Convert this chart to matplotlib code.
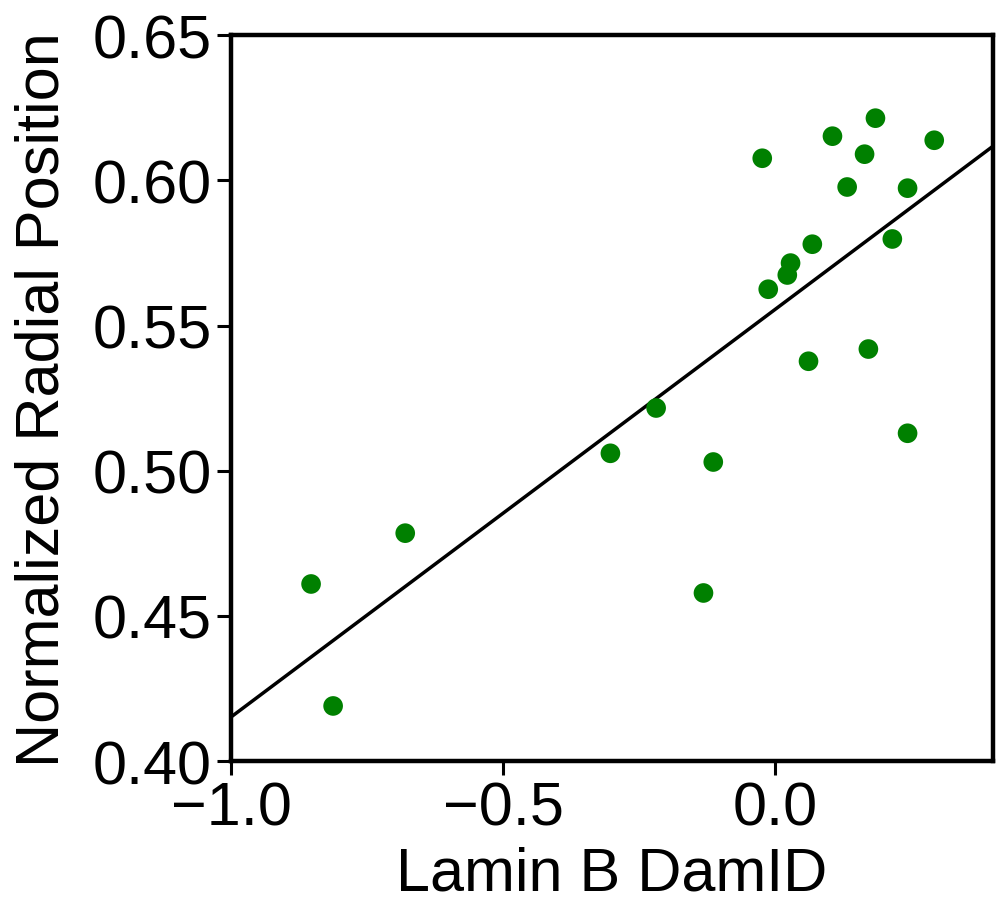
import numpy as np
import matplotlib.pyplot as plt

plt.rcParams['font.family'] = ['Liberation Sans', 'DejaVu Sans']

lamin_b = [-0.853, -0.8125, -0.680, -0.303, -0.219, -0.132, -0.114, -0.024, -0.013,
           0.022, 0.028, 0.061, 0.068, 0.105, 0.132, 0.164, 0.171, 0.184, 0.215,
           0.243, 0.243, 0.292]
radial_pos = [0.461, 0.419, 0.4785, 0.506, 0.5216, 0.4579, 0.503, 0.6076, 0.5625,
              0.5674, 0.5715, 0.5377, 0.578, 0.6152, 0.5977, 0.609, 0.5419, 0.6214,
              0.5798, 0.5973, 0.5129, 0.6138]

# regression line as drawn in the figure (intercept, slope)
fit_coef = [0.5556, 0.1404]

fig = plt.figure(figsize=(9.96, 9.03), dpi=100)
ax = fig.add_axes([0.232, 0.156, 0.765, 0.804])

ax.scatter(lamin_b, radial_pos, s=200, color='green', edgecolors='none', zorder=3)

xs = np.array([-1.0, 0.4])
ax.plot(xs, fit_coef[0] + fit_coef[1] * xs, color='black', lw=2.5, zorder=2)

ax.set_xlim(-1.0, 0.4)
ax.set_ylim(0.40, 0.65)
ax.set_xticks([-1.0, -0.5, 0.0])
ax.set_yticks([0.40, 0.45, 0.50, 0.55, 0.60, 0.65])
ax.set_yticklabels(['0.40', '0.45', '0.50', '0.55', '0.60', '0.65'])

for s in ax.spines.values():
    s.set_linewidth(3.2)
ax.tick_params(labelsize=44, width=2.2, length=10, pad=4)

ax.set_xlabel('Lamin B DamID', fontsize=44, labelpad=6)
ax.set_ylabel('Normalized Radial Position', fontsize=44, labelpad=15)

fig.savefig('out.png', dpi=100)
